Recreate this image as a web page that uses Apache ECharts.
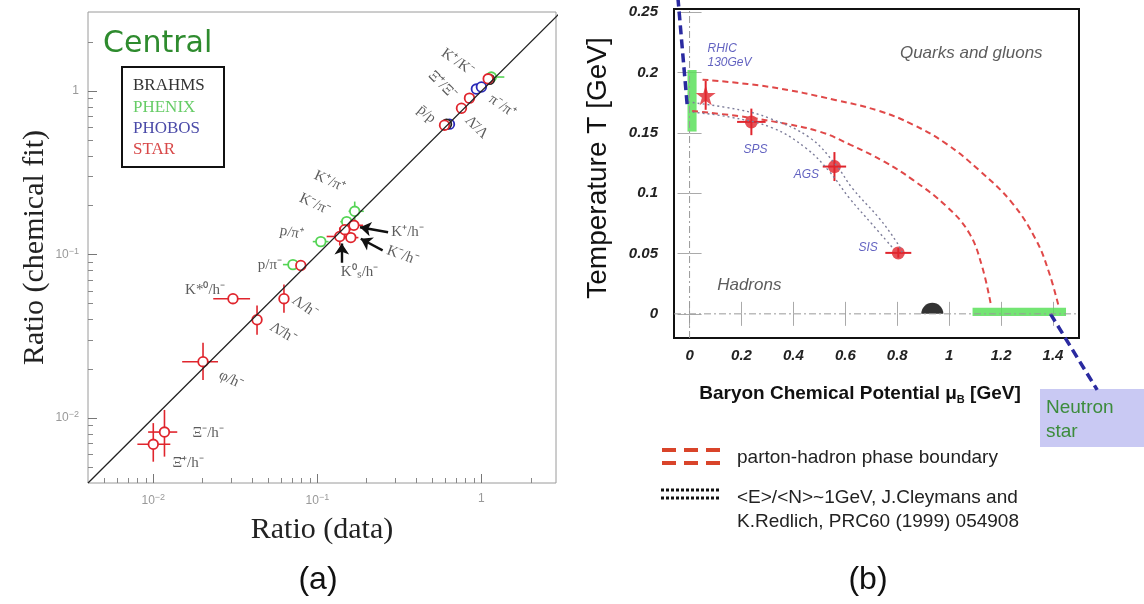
<!DOCTYPE html>
<html>
<head>
<meta charset="utf-8">
<script src="https://cdn.jsdelivr.net/npm/echarts@6/dist/echarts.min.js"></script>
<style>
html,body{margin:0;padding:0;background:#fff;}
#c{width:1144px;height:604px;}
</style>
</head>
<body>
<div id="c"></div>
<script>
// ================= DATA: panel (a) =================
// each row: [x(data), y(fit), xLow, xHigh, yLow, yHigh]
const starPoints = [
  [0.0100, 0.0069, 0.0080, 0.0127, 0.0054, 0.0093],
  [0.0117, 0.0082, 0.0093, 0.0140, 0.0058, 0.0112],
  [0.0201, 0.0221, 0.0150, 0.0248, 0.0171, 0.0289],
  [0.0429, 0.0399, 0.0405, 0.0455, 0.0323, 0.0487],
  [0.0626, 0.0537, 0.0600, 0.0655, 0.0441, 0.0655],
  [0.0306, 0.0537, 0.0232, 0.0389, 0.0515, 0.0560],
  [0.0793, 0.0857, 0.0745, 0.0850, 0.0825, 0.0895],
  [0.137, 0.129, 0.114, 0.164, 0.1135, 0.1465],
  [0.160, 0.127, 0.145, 0.178, 0.120, 0.135],
  [0.167, 0.151, 0.152, 0.190, 0.143, 0.160],
  [0.147, 0.142, 0.136, 0.160, 0.135, 0.150],
  [0.756, 0.786, 0.735, 0.780, 0.760, 0.810],
  [0.846, 0.906, 0.820, 0.870, 0.880, 0.930],
  [0.596, 0.619, 0.560, 0.620, 0.600, 0.640],
  [1.10, 1.19, 1.06, 1.14, 1.15, 1.23]
];
const phenixPoints = [
  [0.0710, 0.0868, 0.0617, 0.0786, 0.0835, 0.0905],
  [0.105, 0.120, 0.0938, 0.117, 0.115, 0.125],
  [0.151, 0.159, 0.138, 0.172, 0.152, 0.166],
  [0.169, 0.184, 0.155, 0.192, 0.159, 0.211],
  [1.15, 1.22, 1.04, 1.38, 1.18, 1.26]
];
const phobosPoints = [
  [0.932, 1.03, 0.91, 0.955, 1.00, 1.06],
  [1.00, 1.06, 0.975, 1.025, 1.03, 1.09],
  [0.639, 0.628, 0.62, 0.66, 0.61, 0.645]
];
const brahmsPoints = [
  [1.12, 1.18, 1.09, 1.15, 1.15, 1.21],
  [0.613, 0.628, 0.595, 0.63, 0.61, 0.645]
];
const diagonal = [[0.004, 0.004], [3, 3]];
const majorLogTicks = [0.01, 0.1, 1];
const minorLogTicks = [0.005,0.006,0.007,0.008,0.009,0.02,0.03,0.04,0.05,0.06,0.07,0.08,0.09,0.2,0.3,0.4,0.5,0.6,0.7,0.8,0.9,2];
const experiments = ['BRAHMS', 'PHENIX', 'PHOBOS', 'STAR'];

const particleLabelText = ['K⁺/K⁻','Ξ̄⁺/Ξ⁻','p̄/p','π⁻/π⁺','Λ̄/Λ','K⁺/π⁺','K⁻/π⁻','p/π⁺','p/π⁻','K⁺/h⁻','K⁻/h⁻','K⁰ₛ/h⁻','K*⁰/h⁻','Λ/h⁻','Λ̄/h⁻','φ/h⁻','Ξ⁻/h⁻','Ξ̄⁺/h⁻'];
const particleLabelAt = [[0.715,1.507],[0.579,1.088],[0.463,0.722],[1.342,0.809],[0.933,0.601],[0.119,0.280],[0.0966,0.203],[0.070,0.136],[0.0514,0.0868],[0.355,0.138],[0.331,0.0986],[0.181,0.0776],[0.0207,0.061],[0.0839,0.048],[0.0617,0.0332],[0.0298,0.0171],[0.0216,0.0081],[0.0163,0.0053]];
const particleLabelAngle = [-35,-45,-40,-35,-45,-25,-25,-10,0,0,-20,0,0,-35,-30,-25,0,0];
const arrowSegments = [
  [[0.270, 0.137], [0.182, 0.147]],
  [[0.250, 0.106], [0.184, 0.125]],
  [[0.141, 0.089], [0.141, 0.117]]
];

// ================= DATA: panel (b) =================
const boundaryUpper = [[0.05,0.194],[0.308,0.188],[0.565,0.177],[0.731,0.168],[0.858,0.157],[0.988,0.141],[1.115,0.119],[1.242,0.092],[1.335,0.061],[1.385,0.034],[1.423,0.005]];
const boundaryLower = [[0.01,0.168],[0.18,0.164],[0.33,0.159],[0.5,0.151],[0.62,0.140],[0.75,0.126],[0.86,0.111],[0.99,0.089],[1.077,0.067],[1.127,0.039],[1.162,0.006]];
const freezeoutOuter = [[0.012,0.175],[0.192,0.169],[0.308,0.162],[0.462,0.146],[0.565,0.123],[0.627,0.104],[0.731,0.079],[0.796,0.060],[0.819,0.051]];
const freezeoutInner = [[0.012,0.167],[0.154,0.163],[0.319,0.154],[0.450,0.137],[0.538,0.118],[0.615,0.096],[0.704,0.074],[0.781,0.055]];
// [muB, T, muErr, Terr]
const rhicPoint = [[0.062, 0.181, 0.0, 0.012]];
const fixedTargetPoints = [[0.238, 0.159, 0.055, 0.011],[0.558, 0.122, 0.045, 0.012],[0.804, 0.0505, 0.05, 0.004]];
const nucleusPoint = [[0.935, 0]];
const greenBands = [[-0.008, 0.027, 0.151, 0.202], [1.09, 1.45, -0.0017, 0.005]];
// [mu1, T1, mu2, T2]
const blueTrajectories = [[-0.045, 0.262, -0.008, 0.170], [1.39, 0.0, 1.57, -0.063]];
const zeroLineV = [[0, -0.02], [0, 0.2525]];
const zeroLineH = [[-0.06, 0], [1.5, 0]];
const muTicks = [0, 0.2, 0.4, 0.6, 0.8, 1, 1.2, 1.4];
const tTicks = [0, 0.05, 0.1, 0.15, 0.2, 0.25];
const acceleratorLabelText = ['RHIC\n130GeV', 'SPS', 'AGS', 'SIS'];
const acceleratorLabelAt = [[0.069, 0.214], [0.254, 0.136], [0.45, 0.115], [0.688, 0.0546]];
const phaseLabelText = ['Quarks and gluons', 'Hadrons'];
const phaseLabelAt = [[1.085, 0.216], [0.23, 0.024]];

// ================= CHART =================
const RED = '#e0252d', GREEN = '#55d455', BLUE = '#2a2ab8', BLACK = '#222';

function errRender(color) {
  return function (params, api) {
    const x = api.value(0), y = api.value(1);
    const c = api.coord([x, y]);
    const xl = api.coord([api.value(2), y]), xh = api.coord([api.value(3), y]);
    const yl = api.coord([x, api.value(4)]), yh = api.coord([x, api.value(5)]);
    return {
      type: 'group',
      children: [
        {type: 'line', shape: {x1: xl[0], y1: c[1], x2: xh[0], y2: c[1]}, style: {stroke: color, lineWidth: 1.6}},
        {type: 'line', shape: {x1: c[0], y1: yl[1], x2: c[0], y2: yh[1]}, style: {stroke: color, lineWidth: 1.6}},
        {type: 'circle', shape: {cx: c[0], cy: c[1], r: 4.8}, style: {fill: '#fff', stroke: color, lineWidth: 1.8}}
      ]
    };
  };
}
function errSeries(name, data, color) {
  return {
    name: name, type: 'custom', xAxisIndex: 0, yAxisIndex: 0, data: data,
    encode: {x: 0, y: 1}, renderItem: errRender(color), silent: true
  };
}
function bRender(params, api) {
  const x = api.value(0), y = api.value(1), dx = api.value(2), dy = api.value(3);
  const a = api.coord([x - dx, y]), b = api.coord([x + dx, y]);
  const c = api.coord([x, y - dy]), d = api.coord([x, y + dy]);
  return {type: 'group', children: [
    {type: 'line', shape: {x1: a[0], y1: a[1], x2: b[0], y2: b[1]}, style: {stroke: RED, lineWidth: 2}},
    {type: 'line', shape: {x1: c[0], y1: c[1], x2: d[0], y2: d[1]}, style: {stroke: RED, lineWidth: 2}}
  ]};
}
function supFmt(v) {
  if (Math.abs(v - 1) < 1e-9) return '1';
  const e = Math.round(Math.log10(v));
  return '10{s|' + (e < 0 ? '−' : '') + Math.abs(e) + '}';
}
const tickRich = {s: {fontSize: 9, color: '#999', verticalAlign: 'top', lineHeight: 16, padding: [0, 0, 8, 0]}};
const STAR_PATH = 'path://M50,0 L61,35 L98,35 L68,57 L79,91 L50,70 L21,91 L32,57 L2,35 L39,35 Z';
const HALF_DISC = 'path://M0,10 A10,10 0 0 1 20,10 Z';

function lineSeries(data, xi, yi, style, extra) {
  return Object.assign({type: 'line', xAxisIndex: xi, yAxisIndex: yi, data: data, symbol: 'none', silent: true, lineStyle: style}, extra || {});
}
function txt(x, y, text, fill, font, align, extra) {
  return Object.assign({type: 'text', x: x, y: y, style: {text: text, fill: fill, font: font, align: align, verticalAlign: 'middle', textAlign: align, textVerticalAlign: 'middle'}}, extra || {});
}

const option = {
  animation: false,
  backgroundColor: '#fff',
  grid: [
    {left: 88, top: 12, width: 468, height: 471, show: true, borderColor: '#9a9a9a', borderWidth: 1, backgroundColor: 'transparent'},
    {left: 674, top: 9, width: 405, height: 329, show: true, borderColor: '#111', borderWidth: 2, backgroundColor: 'transparent'}
  ],
  xAxis: [
    {gridIndex: 0, type: 'log', min: 0.004, max: 2.85, position: 'bottom',
      axisLine: {show: false}, splitLine: {show: false},
      axisTick: {show: true, inside: true, length: 9, customValues: majorLogTicks, lineStyle: {color: '#777'}},
      axisLabel: {customValues: majorLogTicks, formatter: supFmt, color: '#999', fontSize: 12, margin: 10, fontFamily: 'Liberation Sans', rich: tickRich},
      name: 'Ratio (data)', nameLocation: 'middle', nameGap: 24,
      nameTextStyle: {fontFamily: 'Liberation Serif', fontSize: 30, color: '#222'}},
    {gridIndex: 0, type: 'log', min: 0.004, max: 2.85, position: 'bottom',
      axisLine: {show: false}, splitLine: {show: false}, axisLabel: {show: false},
      axisTick: {show: true, inside: true, length: 5, customValues: minorLogTicks, lineStyle: {color: '#888'}}},
    {gridIndex: 1, type: 'value', min: -0.06, max: 1.5, position: 'bottom',
      axisLine: {show: false}, splitLine: {show: false},
      axisTick: {show: true, inside: true, length: 12, customValues: muTicks, lineStyle: {color: '#aaa'}},
      axisLabel: {customValues: muTicks, formatter: v => String(Math.round(v * 10) / 10), fontSize: 15, fontWeight: 'bold', fontStyle: 'italic', fontFamily: 'Liberation Sans', color: '#222', margin: 10}},
    {gridIndex: 1, type: 'value', min: -0.06, max: 1.5, position: 'top',
      axisLine: {show: false}, splitLine: {show: false}, axisLabel: {show: false},
      axisTick: {show: true, inside: true, length: 12, customValues: muTicks, lineStyle: {color: '#aaa'}}}
  ],
  yAxis: [
    {gridIndex: 0, type: 'log', min: 0.004, max: 3.05, position: 'left',
      axisLine: {show: false}, splitLine: {show: false},
      axisTick: {show: true, inside: true, length: 9, customValues: majorLogTicks, lineStyle: {color: '#777'}},
      axisLabel: {customValues: majorLogTicks, formatter: supFmt, color: '#999', fontSize: 12, margin: 9, fontFamily: 'Liberation Sans', rich: tickRich},
      name: 'Ratio (chemical fit)', nameLocation: 'middle', nameGap: 38, nameRotate: 90,
      nameTextStyle: {fontFamily: 'Liberation Serif', fontSize: 30, color: '#222'}},
    {gridIndex: 0, type: 'log', min: 0.004, max: 3.05, position: 'left',
      axisLine: {show: false}, splitLine: {show: false}, axisLabel: {show: false},
      axisTick: {show: true, inside: true, length: 5, customValues: minorLogTicks, lineStyle: {color: '#888'}}},
    {gridIndex: 1, type: 'value', min: -0.02, max: 0.2525, position: 'left',
      axisLine: {show: false}, splitLine: {show: false},
      axisTick: {show: true, inside: true, length: 12, customValues: tTicks, lineStyle: {color: '#aaa'}},
      axisLabel: {customValues: tTicks, formatter: v => String(Math.round(v * 100) / 100), fontSize: 15, fontWeight: 'bold', fontStyle: 'italic', fontFamily: 'Liberation Sans', color: '#222', margin: 16}},
    {gridIndex: 1, type: 'value', min: -0.02, max: 0.2525, position: 'right',
      axisLine: {show: false}, splitLine: {show: false}, axisLabel: {show: false},
      axisTick: {show: true, inside: true, length: 12, customValues: tTicks, lineStyle: {color: '#aaa'}}}
  ],
  series: [
    // ---------- panel (a) ----------
    lineSeries(diagonal, 0, 0, {color: '#222', width: 1.3}),
    errSeries('PHENIX', phenixPoints, GREEN),
    errSeries('PHOBOS', phobosPoints, BLUE),
    errSeries('BRAHMS', brahmsPoints, BLACK),
    errSeries('STAR', starPoints, RED),
    {type: 'lines', coordinateSystem: 'cartesian2d', xAxisIndex: 0, yAxisIndex: 0, silent: true,
      data: arrowSegments.map(s => ({coords: s})),
      symbol: ['none', 'arrow'], symbolSize: 11,
      lineStyle: {color: '#111', width: 2.4, opacity: 1, curveness: 0}},
    {type: 'scatter', xAxisIndex: 0, yAxisIndex: 0, symbolSize: 0, silent: true,
      data: particleLabelText.map((t, i) => ({name: t, value: particleLabelAt[i], label: {rotate: particleLabelAngle[i]}})),
      label: {show: true, position: 'inside', formatter: p => p.name, fontFamily: 'Liberation Serif', fontSize: 15, color: '#333'}},
    // ---------- panel (b) ----------
    lineSeries(zeroLineV, 2, 2, {color: '#999', width: 1, type: [7, 3, 2, 3]}),
    lineSeries(zeroLineH, 2, 2, {color: '#999', width: 1, type: [7, 3, 2, 3]}),
    {type: 'custom', xAxisIndex: 2, yAxisIndex: 2, data: greenBands, silent: true, encode: {x: [0, 1], y: [2, 3]},
      renderItem: function (params, api) {
        const p0 = api.coord([api.value(0), api.value(3)]);
        const p1 = api.coord([api.value(1), api.value(2)]);
        return {type: 'rect', shape: {x: p0[0], y: p0[1], width: p1[0] - p0[0], height: p1[1] - p0[1]},
          style: {fill: 'rgba(90,225,90,0.85)'}};
      }},
    lineSeries(boundaryUpper, 2, 2, {color: '#e04848', width: 2, type: [6, 4]}, {smooth: 0.4}),
    lineSeries(boundaryLower, 2, 2, {color: '#e04848', width: 2, type: [6, 4]}, {smooth: 0.4}),
    lineSeries(freezeoutOuter, 2, 2, {color: '#7d7d9a', width: 1.4, type: [2, 3]}, {smooth: 0.4}),
    lineSeries(freezeoutInner, 2, 2, {color: '#7d7d9a', width: 1.4, type: [2, 3]}, {smooth: 0.4}),
    {type: 'custom', xAxisIndex: 2, yAxisIndex: 2, data: blueTrajectories, silent: true, clip: false, encode: {x: [0, 2], y: [1, 3]},
      renderItem: function (params, api) {
        const a = api.coord([api.value(0), api.value(1)]);
        const b = api.coord([api.value(2), api.value(3)]);
        return {type: 'line', shape: {x1: a[0], y1: a[1], x2: b[0], y2: b[1]},
          style: {stroke: '#2a2aa0', lineWidth: 3.5, lineDash: [9, 5]}};
      }},
    {type: 'custom', xAxisIndex: 2, yAxisIndex: 2, data: rhicPoint.concat(fixedTargetPoints), encode: {x: 0, y: 1}, renderItem: bRender, silent: true},
    {type: 'scatter', xAxisIndex: 2, yAxisIndex: 2, data: fixedTargetPoints.map(d => [d[0], d[1]]), symbol: 'circle', symbolSize: 13,
      itemStyle: {color: RED}, silent: true},
    {type: 'scatter', xAxisIndex: 2, yAxisIndex: 2, data: rhicPoint.map(d => [d[0], d[1]]), symbol: STAR_PATH, symbolSize: 20,
      itemStyle: {color: RED}, silent: true},
    {type: 'scatter', xAxisIndex: 2, yAxisIndex: 2, data: nucleusPoint, symbol: HALF_DISC, symbolSize: [22, 11], symbolOffset: [0, '-50%'],
      itemStyle: {color: '#000'}, silent: true},
    {type: 'scatter', xAxisIndex: 2, yAxisIndex: 2, symbolSize: 0, silent: true,
      data: acceleratorLabelText.map((t, i) => ({name: t, value: acceleratorLabelAt[i], label: i === 0 ? {align: 'left'} : {}})),
      label: {show: true, position: 'inside', formatter: p => p.name, fontFamily: 'Liberation Sans', fontStyle: 'italic', fontSize: 12, lineHeight: 14, color: '#3a3ab0'}},
    {type: 'scatter', xAxisIndex: 2, yAxisIndex: 2, symbolSize: 0, silent: true,
      data: phaseLabelText.map((t, i) => ({name: t, value: phaseLabelAt[i]})),
      label: {show: true, position: 'inside', formatter: p => p.name, fontFamily: 'Liberation Sans', fontStyle: 'italic', fontSize: 17, color: '#333'}}
  ],
  graphic: [
    // panel (a) title + legend
    txt(103, 44, 'Central', '#2e8b2e', '30px "DejaVu Sans"', 'left'),
    {type: 'rect', shape: {x: 122, y: 67, width: 102, height: 100}, style: {fill: '#fff', stroke: '#111', lineWidth: 2}},
    ...experiments.map((e, i) => txt(133, [86, 108, 129, 150][i], e, ['#333', '#66cc66', '#4a4aa8', '#d84848'][i], '17px "Liberation Serif"', 'left')),
    // panel labels
    txt(318, 580, '(a)', '#111', '32px "Liberation Sans"', 'center'),
    txt(868, 580, '(b)', '#111', '32px "Liberation Sans"', 'center'),
    // panel (b) axis titles
    txt(598, 168, 'Temperature T [GeV]', '#111', '28px "Liberation Sans"', 'center', {rotation: Math.PI / 2}),
    {type: 'text', x: 860, y: 394, style: {text: 'Baryon Chemical Potential μ{s|B} [GeV]', fill: '#111', font: 'bold 19px "Liberation Sans"', align: 'center', verticalAlign: 'middle', textAlign: 'center', textVerticalAlign: 'middle',
      rich: {s: {font: 'bold 11px "Liberation Sans"', fill: '#111', verticalAlign: 'bottom', lineHeight: 22, padding: [10, 0, 0, 0]}}}},
    // panel (b) legend
    {type: 'line', shape: {x1: 662, y1: 450, x2: 720, y2: 450}, style: {stroke: '#d9442a', lineWidth: 4, lineDash: [14, 8]}},
    {type: 'line', shape: {x1: 662, y1: 463, x2: 720, y2: 463}, style: {stroke: '#d9442a', lineWidth: 4, lineDash: [14, 8]}},
    {type: 'line', shape: {x1: 661, y1: 490, x2: 720, y2: 490}, style: {stroke: '#111', lineWidth: 3, lineDash: [3, 2]}},
    {type: 'line', shape: {x1: 661, y1: 498, x2: 720, y2: 498}, style: {stroke: '#111', lineWidth: 3, lineDash: [3, 2]}},
    txt(737, 458, 'parton-hadron phase boundary', '#222', '19px "Liberation Sans"', 'left'),
    txt(737, 498, '<E>/<N>~1GeV, J.Cleymans and', '#222', '19px "Liberation Sans"', 'left'),
    txt(737, 522, 'K.Redlich, PRC60 (1999) 054908', '#222', '19px "Liberation Sans"', 'left'),
    // neutron star box
    {type: 'rect', z: -1, shape: {x: 1040, y: 389, width: 104, height: 58}, style: {fill: '#c9c9f3'}},
    txt(1046, 408, 'Neutron', '#3c8c3c', '19px "Liberation Sans"', 'left'),
    txt(1046, 432, 'star', '#3c8c3c', '19px "Liberation Sans"', 'left')
  ]
};
const chart = echarts.init(document.getElementById('c'));
chart.setOption(option);
</script>
</body>
</html>
